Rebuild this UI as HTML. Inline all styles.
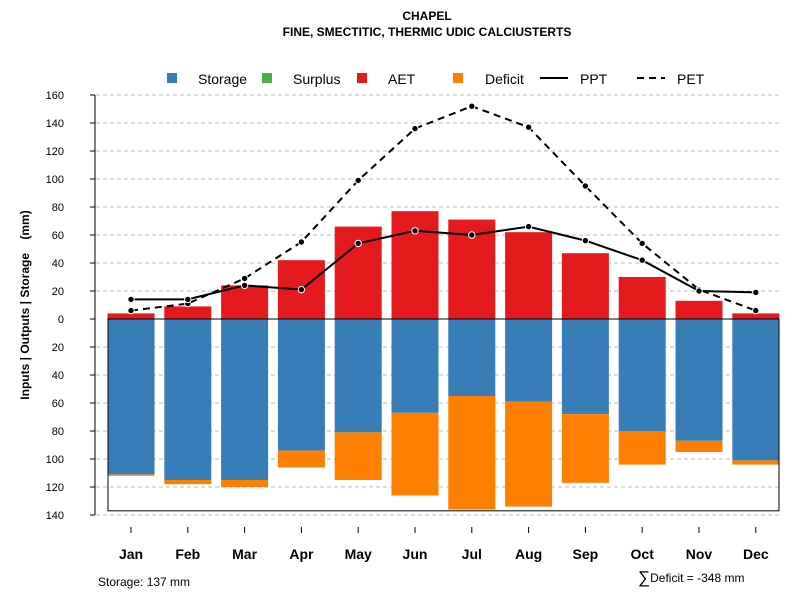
<!DOCTYPE html>
<html><head><meta charset="utf-8"><style>body{margin:0;background:#fff}svg{display:block;font-family:"Liberation Sans",sans-serif}</style></head>
<body>
<svg id="c" width="800" height="600" xmlns="http://www.w3.org/2000/svg"></svg>
<script>
const months=["Jan","Feb","Mar","Apr","May","Jun","Jul","Aug","Sep","Oct","Nov","Dec"];
const aet=[4,9,24,42,66,77,71,62,47,30,13,4];
const storage=[111,115,115,94,81,67,55,59,68,80,87,101];
const deficit=[1,3,5,12,34,59,81,75,49,24,8,3];
const ppt=[14,14,24,21,54,63,60,66,56,42,20,19];
const pet=[6,11,29,55,99,136,152,137,95,54,21,6];
const yTicks=[160,140,120,100,80,60,40,20,0,-20,-40,-60,-80,-100,-120,-140];
const storageCap=137;
const NS="http://www.w3.org/2000/svg";
const svg=document.getElementById('c');
const y=v=>319-v*1.4;
const x=i=>131+i*56.8;
const bw=47;
function mk(t,a,txt){const e=document.createElementNS(NS,t);for(const k in a)e.setAttribute(k,a[k]);if(txt!==undefined)e.textContent=txt;svg.appendChild(e);return e;}
yTicks.forEach(v=>{
 if(v!==0){const g=mk('line',{x1:96,x2:780,y1:y(v),y2:y(v),stroke:'#bbb','stroke-dasharray':'4,3'});
 
 }
 const t=mk('line',{x1:90,x2:95,y1:y(v),y2:y(v),stroke:'#000'});
 
 
 const l=mk('text',{x:64,y:y(v)+4,'font-size':11,'text-anchor':'end'},Math.abs(v));
 
 
});
mk('line',{x1:95,x2:95,y1:y(160),y2:y(-140),stroke:'#000'});
months.forEach((m,i)=>{
 const a=mk('rect',{x:x(i)-bw/2,y:y(aet[i]),width:bw,height:aet[i]*1.4,fill:'#E41A1C'});
 
 
 const s=mk('rect',{x:x(i)-bw/2,y:y(0),width:bw,height:storage[i]*1.4,fill:'#377EB8'});
 
 
 const d=mk('rect',{x:x(i)-bw/2,y:y(-storage[i]),width:bw,height:deficit[i]*1.4,fill:'#FF7F00'});
 
 
 const t=mk('line',{x1:x(i),x2:x(i),y1:527,y2:533,stroke:'#000'});
 
 
 const l=mk('text',{x:x(i),y:559,'font-size':14,'font-weight':'bold','text-anchor':'middle'},m);
 
 
});
const box=mk('rect',{x:108,y:y(0),width:671,height:storageCap*1.4,fill:'none',stroke:'#000'});


function line(arr,dash,name){
 const p=mk('polyline',{points:arr.map((v,i)=>x(i)+','+y(v)).join(' '),fill:'none',stroke:'#000','stroke-width':2,'stroke-dasharray':dash});
 
 
 arr.forEach((v,i)=>{const c=mk('circle',{cx:x(i),cy:y(v),r:3.2,fill:'#000',stroke:'#fff','stroke-width':1});
 
 });
}
line(pet,'7,5','pet');
line(ppt,'none','ppt');
let e=mk('text',{x:427,y:20,'font-size':12,'font-weight':'bold','text-anchor':'middle'},'CHAPEL');

e=mk('text',{x:427,y:36,'font-size':12,'font-weight':'bold','text-anchor':'middle'},'FINE, SMECTITIC, THERMIC UDIC CALCIUSTERTS');

e=mk('text',{x:0,y:0,'font-size':12,'font-weight':'bold','text-anchor':'middle',style:'white-space:pre',transform:'translate(29,305) rotate(-90)'},'Inputs | Outputs | Storage    (mm)');

e=mk('text',{x:98,y:586,'font-size':12},'Storage: 137 mm');

e=mk('text',{x:638,y:582,'font-size':12});

const ts1=document.createElementNS(NS,'tspan');ts1.setAttribute('font-size','17');ts1.setAttribute('dy','1');ts1.textContent='∑';e.appendChild(ts1);
const ts2=document.createElementNS(NS,'tspan');ts2.setAttribute('dy','-1');ts2.textContent='Deficit = -348 mm';e.appendChild(ts2);
const leg=[["Storage","#377EB8",167],["Surplus","#4DAF4A",262],["AET","#E41A1C",357]];
leg.forEach(l=>{const r=mk('rect',{x:l[2],y:73,width:10,height:10,fill:l[1]});
 
 const t=mk('text',{x:l[2]+31,y:84,'font-size':14},l[0]);
 });
e=mk('rect',{x:453,y:73,width:10,height:10,fill:'#FF7F00'});
e=mk('text',{x:485,y:84,'font-size':14},'Deficit');
e=mk('line',{x1:540,x2:568,y1:78,y2:78,stroke:'#000','stroke-width':2});
e=mk('text',{x:580,y:84,'font-size':14},'PPT');
e=mk('line',{x1:637,x2:665,y1:78,y2:78,stroke:'#000','stroke-width':2,'stroke-dasharray':'7,5'});
e=mk('text',{x:677,y:84,'font-size':14},'PET');
</script>
</body></html>
